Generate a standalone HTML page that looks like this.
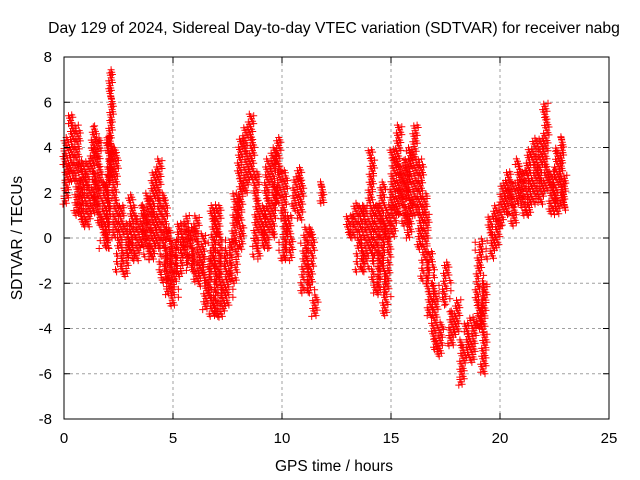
<!DOCTYPE html>
<html><head><meta charset="utf-8"><style>
body{margin:0;background:#fff}
svg{display:block;font-family:"Liberation Sans",sans-serif}
</style></head><body>
<svg id="chart" width="640" height="480" viewBox="0 0 640 480">
<rect width="640" height="480" fill="#fff"/>
<text x="334" y="33" font-size="15.7" text-anchor="middle">Day 129 of 2024, Sidereal Day-to-day VTEC variation (SDTVAR) for receiver nabg</text>
<text x="334" y="471" font-size="15.5" text-anchor="middle">GPS time / hours</text>
<text transform="translate(22,238) rotate(-90)" font-size="15.5" text-anchor="middle">SDTVAR / TECUs</text>
<g id="grid"></g><g id="marks"></g><g id="axes"></g>
</svg>
<script>
const hours=[0,0.25,0.5,0.75,1,1.25,1.5,1.75,2,2.1,2.25,2.5,2.75,3,3.25,3.5,3.75,4,4.25,4.5,4.75,5,5.25,5.5,5.75,6,6.25,6.5,6.75,7,7.25,7.5,7.75,8,8.25,8.5,8.75,9,9.25,9.5,9.75,10,10.25,10.5,10.75,11,11.25,11.5,11.75,13,13.25,13.5,13.75,14,14.25,14.5,14.75,15,15.25,15.5,15.75,16,16.25,16.5,16.75,17,17.25,17.5,17.75,18,18.25,18.5,18.75,19,19.25,19.5,19.75,20,20.25,20.5,20.75,21,21.25,21.5,21.75,22,22.25,22.5,22.75,22.9];
const centers=[3,4,3,2,2,3,2.5,1,2,5,2,0,-0.5,0.5,0,0.5,0.5,1,1.5,0,-1,-1.5,-0.5,0,-0.5,-0.5,-1,-2,-1,-1,-2,-1.5,0,2,3.5,4,1,0.5,1.5,2,3,1,0,2,2,-1,-1,-3,2,0.5,0.8,0,0,1.5,-0.5,0,-1,2,3,2,2,3,1.5,0,-2,-3.5,-4.5,-2,-4,-3.5,-5.5,-4.5,-4.5,-2,-4,0,0.5,1.5,2,1.5,2.5,2,2.5,3,3,4,2,2.5,3,2];
const spreads=[1.5,1.5,2,1.5,1.5,2,2,1.5,2.5,2.5,2,1.5,1.2,1.5,1,1,1.5,2,2,2,1.5,1.5,1.2,1,1,1.5,1.2,1.2,2.5,2.5,1.5,1.5,2,2.5,1.5,1.5,2,1,2,2,1.5,2,1,0.8,1.2,1.5,1.5,0.5,0.5,0.5,0.8,1.5,1.5,2.5,2,2.5,2.5,2,2,1.5,2,2,2,2,1.5,1.5,0.8,1,0.8,0.8,1,0.8,1,2,2,1,1,1,1,1,1,1,1.5,1.5,1.5,2,1,1.5,1.5,0.8];
const xTicks=[0,5,10,15,20,25];
const yTicks=[-8,-6,-4,-2,0,2,4,6,8];
const L=64,R=609,T=57,B=419;
const xs=v=>L+(v-0)/25*(R-L);
const ys=v=>B-(v+8)/16*(B-T);
const NS="http://www.w3.org/2000/svg";
const grid=document.getElementById('grid'),axes=document.getElementById('axes'),marks=document.getElementById('marks');
function mk(tag,attrs,parent){const e=document.createElementNS(NS,tag);for(const k in attrs)e.setAttribute(k,attrs[k]);parent.appendChild(e);return e;}
xTicks.forEach(t=>{const x=xs(t);
 if(t>0&&t<25){const g=mk('line',{x1:x,x2:x,y1:T,y2:B,stroke:'#a0a0a0','stroke-dasharray':'3,3'},grid);
 
 }
 mk('line',{x1:x,x2:x,y1:B,y2:B-6,stroke:'#000'},axes);mk('line',{x1:x,x2:x,y1:T,y2:T+6,stroke:'#000'},axes);
 const tx=mk('text',{x:x,y:B+24,'font-size':15,'text-anchor':'middle'},axes);tx.textContent=t;
 
 });
yTicks.forEach(t=>{const y=ys(t);
 if(t>-8&&t<8){const g=mk('line',{x1:L,x2:R,y1:y,y2:y,stroke:'#a0a0a0','stroke-dasharray':'3,3'},grid);
 
 }
 mk('line',{x1:L,x2:L+6,y1:y,y2:y,stroke:'#000'},axes);mk('line',{x1:R,x2:R-6,y1:y,y2:y,stroke:'#000'},axes);
 const tx=mk('text',{x:L-12,y:y+5,'font-size':15,'text-anchor':'end'},axes);tx.textContent=t;
 
 });
const fr=mk('rect',{x:L,y:T,width:R-L,height:B-T,fill:'none',stroke:'#000'},axes);


let d='';
hours.forEach((h,i)=>{
 const w=(i<hours.length-1&&hours[i+1]-h<0.3)?hours[i+1]-h:0.15;
 for(let s=0;s<5;s++){
  const hh=h+w*s/5;
  const off=((s*37+i*13)%10)/10*0.35;
  for(let v=centers[i]-spreads[i]+off;v<=centers[i]+spreads[i]+1e-6;v+=0.35){
   const x=xs(hh)+((s*7+Math.round(v*10))%3)-1,y=ys(v);
   d+=`M${(x-3.5).toFixed(1)} ${y.toFixed(1)}h7M${x.toFixed(1)} ${(y-3.5).toFixed(1)}v7`;
  }}
});
const p=mk('path',{d:d,stroke:'#ff0000','stroke-width':1,fill:'none'},marks);


</script>
</body></html>
